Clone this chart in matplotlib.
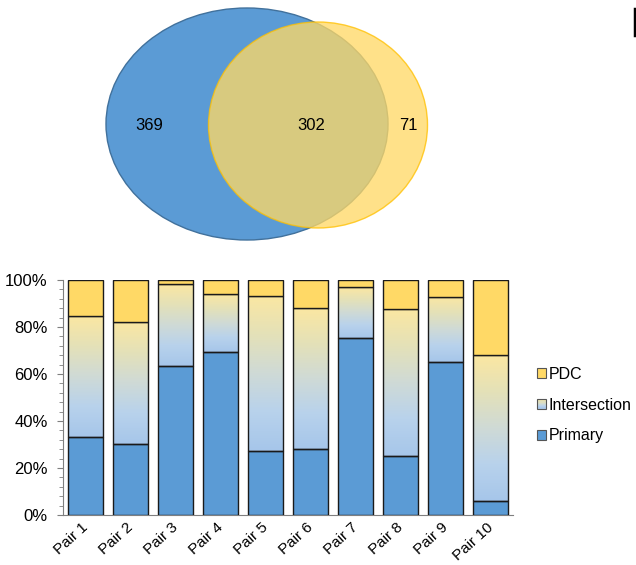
import matplotlib.pyplot as plt
import numpy as np
from matplotlib.patches import Ellipse, Rectangle
from matplotlib.lines import Line2D
from matplotlib.legend_handler import HandlerBase
from matplotlib.colors import LinearSegmentedColormap
from matplotlib.transforms import ScaledTranslation

plt.rcParams['font.family'] = ['Liberation Sans', 'DejaVu Sans']

# Venn counts
only_primary = 369
shared = 302
only_pdc = 71

# stacked bars (percent)
pairs = ['Pair 1', 'Pair 2', 'Pair 3', 'Pair 4', 'Pair 5',
         'Pair 6', 'Pair 7', 'Pair 8', 'Pair 9', 'Pair 10']
primary = [33.3, 30.1, 63.5, 69.4, 27.2, 28.1, 75.3, 25.0, 65.1, 6.0]
intersection = [51.4, 52.0, 34.8, 24.6, 66.1, 59.8, 21.6, 62.5, 27.7, 61.9]
pdc = [15.3, 17.9, 1.7, 6.0, 6.7, 12.1, 3.1, 12.5, 7.2, 32.1]

blue = '#5b9bd5'
yellow = '#ffd966'
grad = LinearSegmentedColormap.from_list(
    'inter', ['#a6c6ea', '#b8d2ec', '#cfdad6', '#e4e1b8', '#fbe7a2'])

W, H = 636, 565
fig = plt.figure(figsize=(W / 100, H / 100), dpi=100)

# --- Venn diagram (pixel coordinates) ---
av = fig.add_axes([0, 1 - 250 / H, 1, 250 / H])
av.set_xlim(0, W)
av.set_ylim(250, 0)
av.axis('off')
av.add_patch(Ellipse((247, 124), 282, 232, facecolor=blue, edgecolor='#41719c', lw=1))
av.add_patch(Ellipse((318, 125), 219, 206, facecolor=yellow, edgecolor='#ffc000',
                     lw=1, alpha=0.77))
av.text(149, 126, str(only_primary), ha='center', va='center', fontsize=12)
av.text(311, 126, str(shared), ha='center', va='center', fontsize=12)
av.text(408, 126, str(only_pdc), ha='center', va='center', fontsize=12)
# edge of the cut-off panel letter at the right border
fig.add_artist(Line2D([634.5 / W, 634.5 / W], [1 - 9 / H, 1 - 35 / H],
                      color='black', lw=2.5, transform=fig.transFigure))

# --- stacked bar chart ---
ax = fig.add_axes([63 / W, 50 / H, 450 / W, 235 / H])
x = np.arange(len(pairs))
w = 0.78
ec = '#1a1a1a'
b1 = ax.bar(x, primary, w, color=blue, edgecolor=ec, lw=1, zorder=3)
bot2 = np.array(primary)
b2 = ax.bar(x, intersection, w, bottom=bot2, facecolor='none', edgecolor=ec, lw=1, zorder=3)
bot3 = bot2 + np.array(intersection)
b3 = ax.bar(x, pdc, w, bottom=bot3, color=yellow, edgecolor=ec, lw=1, zorder=3)

g = np.linspace(0, 1, 256).reshape(-1, 1)
for p in b2.patches:
    x0, y0 = p.get_x(), p.get_y()
    ax.imshow(g, cmap=grad, origin='lower', aspect='auto', zorder=2,
              extent=(x0, x0 + p.get_width(), y0, y0 + p.get_height()))

ax.set_xlim(-0.5, len(pairs) - 0.5)
ax.set_ylim(0, 100)
ax.set_yticks(np.arange(0, 101, 20))
ax.set_yticks(np.arange(0, 101, 4), minor=True)
ax.set_yticklabels([f'{v}%' for v in range(0, 101, 20)], fontsize=12)
ax.tick_params(axis='y', which='major', length=4, color='#7f7f7f', pad=7)
ax.tick_params(axis='y', which='minor', length=3, color='#7f7f7f')
ax.set_xticks(x)
ax.set_xticklabels(pairs, rotation=42, ha='right', rotation_mode='anchor', fontsize=11)
ax.tick_params(axis='x', length=0, pad=4)
shift = ScaledTranslation(-3 / 72, 0, fig.dpi_scale_trans)
for lab in ax.get_xticklabels():
    lab.set_transform(lab.get_transform() + shift)
for s in ['top', 'right']:
    ax.spines[s].set_visible(False)
for s in ['left', 'bottom']:
    ax.spines[s].set_color('#7f7f7f')


class GradHandler(HandlerBase):
    def create_artists(self, legend, orig, xd, yd, width, height, fontsize, trans):
        arts = []
        n = 8
        for i in range(n):
            arts.append(Rectangle((-xd, -yd + height * i / n), width, height / n,
                                  facecolor=grad((i + 0.5) / n), edgecolor='none',
                                  transform=trans))
        arts.append(Rectangle((-xd, -yd), width, height, facecolor='none',
                              edgecolor='#555555', lw=0.8, transform=trans))
        return arts


h_pdc = Rectangle((0, 0), 1, 1, facecolor=yellow, edgecolor='#555555', lw=0.8)
h_int = Rectangle((0, 0), 1, 1)
h_pri = Rectangle((0, 0), 1, 1, facecolor=blue, edgecolor='#555555', lw=0.8)
fig.legend([h_pdc, h_int, h_pri], ['PDC', 'Intersection', 'Primary'],
           loc='center left', bbox_to_anchor=(537 / W, 1 - 405 / H),
           frameon=False, fontsize=11.5, handlelength=0.55, handleheight=0.55,
           handletextpad=0.2, labelspacing=1.0, borderpad=0, borderaxespad=0,
           handler_map={h_int: GradHandler()})

fig.savefig('out.png', dpi=100)
